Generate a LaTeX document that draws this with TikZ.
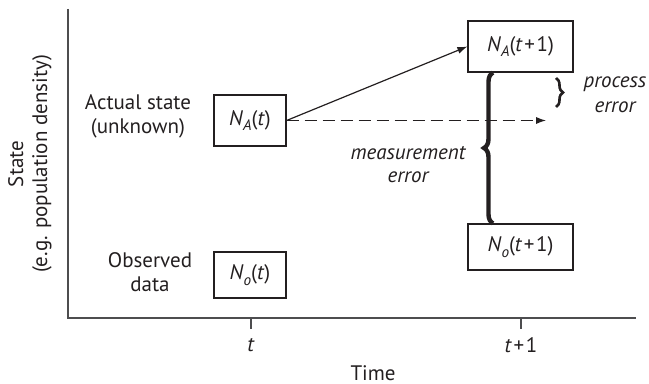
\documentclass[tikz,border=0pt]{standalone}
\usepackage{fontspec}
\setmainfont{PT Sans}
\usetikzlibrary{arrows.meta,positioning,decorations.pathreplacing}
\definecolor{ink}{HTML}{231F20}
\definecolor{axisc}{HTML}{4D4D4F}
\newcommand{\Nst}[2]{\textit{N}\raisebox{-0.5ex}{\fontsize{7.6}{8}\selectfont\textit{#1}}(#2)}
\newcommand{\tnext}{\textit{t}\kern0.8pt+\kern0.8pt1}

\begin{document}
\begin{tikzpicture}[x=0.5pt,y=-0.5pt,>={Latex[length=5pt,width=3.6pt]},
  font=\fontsize{10.5}{12}\selectfont,color=ink,
  abox/.style={draw=ink,line width=0.6pt,minimum width=36pt,minimum height=25.5pt,inner sep=0pt},
  obox/.style={abox,minimum height=23pt},
  wbox/.style={minimum width=52.5pt}]
\useasboundingbox (0,0) rectangle (649,384);

% axes
\draw[axisc,line width=0.8pt] (68,9) -- (68,318) -- (636,318);
\foreach \x in {251,521} \draw[axisc,line width=0.8pt] (\x,318) -- (\x,329);
\node (tlab) at (251,345) {\textit{t}};
\node (t1lab) at (521,345) {\tnext};
\node (xlab) at (373,373) {Time};
\node[rotate=90,align=center] (ylab) at (30,164) {State\\(e.g. population density)};

% row labels
\node[align=center] (actual) at (138,116) {Actual state\\(unknown)};
\node[align=center] (observed) at (150,272) {Observed\\data};

% state boxes
\node[abox] (na) at (250,120.5) {\Nst{A}{\textit{t}}};
\node[obox] (no) at (250,275) {\Nst{o}{\textit{t}}};
\node[abox,wbox] (na1) at (520.5,46.5) {\Nst{A}{\tnext}};
\node[obox,wbox] (no1) at (520.5,247) {\Nst{o}{\tnext}};

% transition and expectation
\coordinate (dashend) at (546,120.5);
\draw[->,line width=0.6pt] (na.east) -- (na1.west);
\draw[->,line width=0.6pt,dash pattern=on 6pt off 3pt] (na.east) -- (dashend);

% errors
\coordinate (mtop) at (na1.south west -| 493,0);
\coordinate (mbot) at (no1.north west -| 493,0);
\draw[line width=2.2pt,decorate,decoration={brace,amplitude=4.5pt}] (mbot) -- (mtop);
\draw[line width=1.3pt,decorate,decoration={brace,amplitude=3.5pt}] (556,78) -- (556,107);
\node[align=center,font=\fontsize{10.5}{11.5}\selectfont\itshape] (merr) at (408,165) {measurement\\error};
\node[align=center,font=\fontsize{10.5}{12.5}\selectfont\itshape] (perr) at (615,95) {process\\error};
\end{tikzpicture}
\end{document}
